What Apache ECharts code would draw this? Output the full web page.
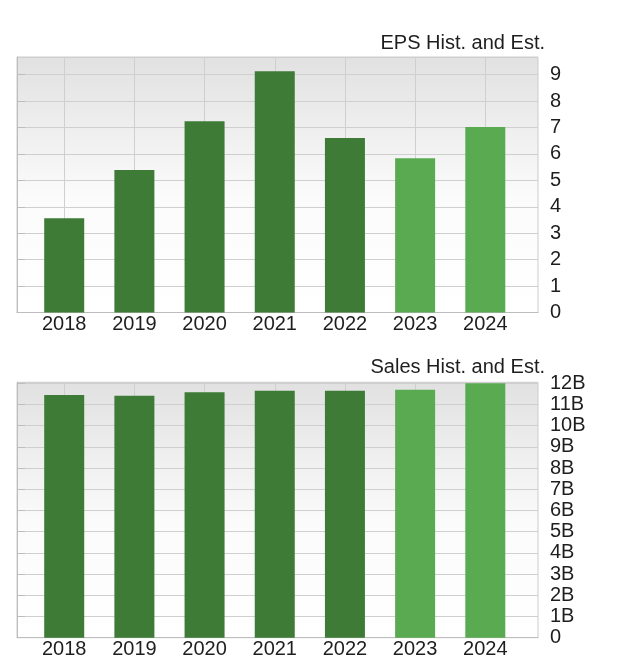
<!DOCTYPE html>
<html>
<head>
<meta charset="utf-8">
<script src="https://cdn.jsdelivr.net/npm/echarts@6/dist/echarts.min.js"></script>
<style>
html,body{margin:0;padding:0;background:#ffffff;}
#chart{width:620px;height:672px;}
</style>
</head>
<body>
<div id="chart"></div>
<script>
// ---- data ----
const years = ['2018', '2019', '2020', '2021', '2022', '2023', '2024'];
const epsValues = [3.57, 5.39, 7.24, 9.13, 6.60, 5.84, 7.02];
const salesValues = [11.45, 11.42, 11.58, 11.65, 11.65, 11.70, 12.01]; // billions
const isEstimate = [false, false, false, false, false, true, true];
const epsTitle = 'EPS Hist. and Est.';
const salesTitle = 'Sales Hist. and Est.';
const salesTickSuffix = 'B';

// ---- style ----
const FONT = '"Liberation Sans", Arial, sans-serif';
const TXT = '#1e1e1e';
const GRIDLINE = '#cfcfcf';
const AXISLINE = '#bdbdbd';
const HIST = '#3e7b36';
const EST = '#5aaa52';
const bg = {
  type: 'linear', x: 0, y: 0, x2: 0, y2: 1,
  colorStops: [
    { offset: 0, color: '#e1e1e1' },
    { offset: 0.55, color: '#fbfbfb' },
    { offset: 1, color: '#ffffff' }
  ]
};

const epsMax = 9.67;
const salesMax = 12.05;

function bgGrid(top, bottom) {
  return { left: 17, right: 82, top: top, bottom: bottom, show: true,
           backgroundColor: bg, borderColor: '#cccccc', borderWidth: 1 };
}
function barGrid(top, bottom) {
  return { left: 64.2, right: 134.7, top: top, bottom: bottom, show: false };
}
function bgXAxis(gi) {
  return { gridIndex: gi, type: 'value', min: 0, max: 1,
    axisLine: { show: true, lineStyle: { color: AXISLINE } },
    axisTick: { show: false }, axisLabel: { show: false }, splitLine: { show: false } };
}
function catXAxis(gi) {
  return { gridIndex: gi, type: 'category', data: years, boundaryGap: false,
    axisLine: { show: false }, axisTick: { show: false },
    axisLabel: { interval: 0, margin: 2, fontSize: 20, color: TXT, fontFamily: FONT },
    splitLine: { show: true, interval: 0, lineStyle: { color: GRIDLINE, width: 1 } } };
}
function valYAxis(gi, max, fmt) {
  return { gridIndex: gi, type: 'value', position: 'right', min: 0, max: max, interval: 1,
    axisLine: { show: true, lineStyle: { color: AXISLINE } },
    axisTick: { show: true, length: 8, lineStyle: { color: AXISLINE } },
    axisLabel: { margin: 12, fontSize: 20, color: TXT, fontFamily: FONT, showMaxLabel: false, formatter: fmt },
    splitLine: { show: true, lineStyle: { color: GRIDLINE, width: 1 } } };
}
function hiddenYAxis(gi, max) {
  return { gridIndex: gi, type: 'value', min: 0, max: max, show: false, splitLine: { show: false } };
}
function barSeries(xi, yi, values) {
  return { type: 'bar', xAxisIndex: xi, yAxisIndex: yi, data: values, barWidth: 40, clip: false,
    itemStyle: { color: function (p) { return isEstimate[p.dataIndex] ? EST : HIST; } },
    emphasis: { disabled: true } };
}

const chart = echarts.init(document.getElementById('chart'), null, { renderer: 'canvas' });
chart.setOption({
  animation: false,
  backgroundColor: '#ffffff',
  textStyle: { fontFamily: FONT },
  title: [
    { text: epsTitle, right: 70, top: 28, textStyle: { fontSize: 20, fontWeight: 'normal', color: TXT, fontFamily: FONT } },
    { text: salesTitle, right: 70, top: 352, textStyle: { fontSize: 20, fontWeight: 'normal', color: TXT, fontFamily: FONT } }
  ],
  grid: [
    bgGrid(57, 672 - 312.5),
    barGrid(57, 672 - 312.5),
    bgGrid(382.3, 672 - 637.7),
    barGrid(382.3, 672 - 637.7)
  ],
  xAxis: [bgXAxis(0), catXAxis(1), bgXAxis(2), catXAxis(3)],
  yAxis: [
    valYAxis(0, epsMax, function (v) { return String(v); }),
    hiddenYAxis(1, epsMax),
    valYAxis(2, salesMax, function (v) { return v === 0 ? '0' : v + salesTickSuffix; }),
    hiddenYAxis(3, salesMax)
  ],
  series: [
    barSeries(1, 1, epsValues),
    barSeries(3, 3, salesValues)
  ]
});
</script>
</body>
</html>
